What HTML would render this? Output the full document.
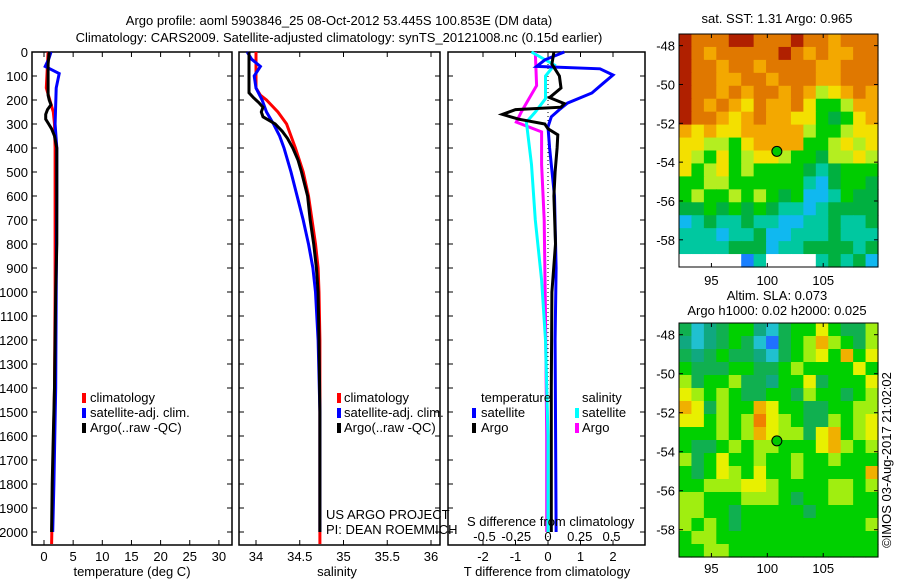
<!DOCTYPE html>
<html><head><meta charset="utf-8">
<style>
html,body{margin:0;padding:0;background:#fff;}
svg{display:block;font-family:"Liberation Sans",sans-serif;font-size:13px;}
</style></head>
<body>
<svg id="fig" width="900" height="580" viewBox="0 0 900 580">
<text x="339" y="25" text-anchor="middle">Argo profile: aoml 5903846_25 08-Oct-2012 53.445S 100.853E (DM data)</text>
<text x="339" y="42" text-anchor="middle">Climatology: CARS2009. Satellite-adjusted climatology: synTS_20121008.nc (0.15d earlier)</text>
<g id="g1"></g>
<g id="g2"></g>
<g id="g3"></g>
<g id="m1"></g>
<g id="m2"></g>
<text x="90" y="402">climatology</text>
<text x="90" y="417">satellite-adj. clim.</text>
<text x="90" y="432">Argo(..raw -QC)</text>
<rect x="82" y="393" width="4" height="10" fill="#f00"/><rect x="82" y="408" width="4" height="10" fill="#00f"/><rect x="82" y="423" width="4" height="10" fill="#000"/>
<text x="344" y="402">climatology</text>
<text x="344" y="417">satellite-adj. clim.</text>
<text x="344" y="432">Argo(..raw -QC)</text>
<rect x="337" y="393" width="4" height="10" fill="#f00"/><rect x="337" y="408" width="4" height="10" fill="#00f"/><rect x="337" y="423" width="4" height="10" fill="#000"/>
<text x="481" y="402">temperature</text>
<text x="481" y="417">satellite</text>
<text x="481" y="432">Argo</text>
<rect x="472" y="408" width="4" height="10" fill="#00f"/><rect x="472" y="423" width="4" height="10" fill="#000"/>
<text x="582" y="402">salinity</text>
<text x="582" y="417">satellite</text>
<text x="582" y="432">Argo</text>
<rect x="575" y="408" width="4" height="10" fill="#0ff"/><rect x="575" y="423" width="4" height="10" fill="#f0f"/>
<text x="326" y="519">US ARGO PROJECT</text>
<text x="326" y="534">PI: DEAN ROEMMICH</text>
<text x="467" y="526">S difference from climatology</text>
<text x="132" y="576" text-anchor="middle">temperature (deg C)</text>
<text x="337" y="576" text-anchor="middle">salinity</text>
<text x="547" y="576" text-anchor="middle">T difference from climatology</text>
<text x="777" y="23" text-anchor="middle">sat. SST: 1.31 Argo: 0.965</text>
<text x="777" y="300" text-anchor="middle">Altim. SLA: 0.073</text>
<text x="777" y="315" text-anchor="middle">Argo h1000: 0.02 h2000: 0.025</text>
<text transform="translate(891,460) rotate(-90)" text-anchor="middle">©IMOS 03-Aug-2017 21:02:02</text>
</svg>
<script>
const depthTicks=[0,100,200,300,400,500,600,700,800,900,1000,1100,1200,1300,1400,1500,1600,1700,1800,1900,2000];
const tTicks=[0,5,10,15,20,25,30];
const sTicks=[34,34.5,35,35.5,36];
const tdTicks=[-2,-1,0,1,2];
const sdTicks=[-0.5,-0.25,0,0.25,0.5];
const sdTickLabels=["-0.5","-0.25","0","0.25","0.5"];
// temperature profiles
const tArgoD=[0,50,100,180,200,220,240,260,280,300,320,350,400,500,600,800,1000,1200,1400,1600,1800,2000];
const tArgoV=[0.9,0.7,0.7,0.7,0.9,1.2,0.6,0.3,0.3,0.8,1.3,1.8,2.2,2.2,2.2,2.2,2.0,1.9,1.8,1.6,1.4,1.3];
const tClimD=[0,50,100,150,200,250,300,400,600,1000,1400,1800,2050];
const tClimV=[0.7,0.6,0.5,0.4,1.0,1.6,1.8,1.9,1.9,1.9,1.8,1.5,1.3];
const tSatD=[0,30,60,90,150,300,400,600,1000,1400,1800,2000];
const tSatV=[1.2,0.8,0.2,2.6,2.1,1.9,2.2,2.2,2.1,2.0,1.7,1.5];
// salinity profiles
const sArgoD=[0,170,190,210,230,250,270,300,330,360,400,450,500,600,700,800,900,1000,1200,1500,2000];
const sArgoV=[33.92,33.92,33.97,34.03,34.08,34.06,34.08,34.22,34.3,34.36,34.42,34.48,34.52,34.59,34.62,34.66,34.69,34.71,34.72,34.73,34.73];
const sClimD=[0,50,100,150,180,200,250,300,350,400,500,600,700,800,900,1000,1200,2050];
const sClimV=[34.0,34.0,34.0,34.0,34.05,34.12,34.25,34.35,34.4,34.45,34.54,34.6,34.64,34.68,34.71,34.72,34.73,34.73];
const sSatD=[0,30,60,100,150,200,250,300,350,400,500,600,700,800,900,1000,1200,1500,2000];
const sSatV=[33.9,33.95,34.05,33.98,34.0,34.07,34.12,34.2,34.27,34.32,34.4,34.47,34.54,34.6,34.65,34.68,34.71,34.73,34.73];
// difference profiles
const dTSatD=[0,33,60,70,96,130,171,213,240,270,312,400,600,900,1200,2000];
const dTSatV=[0.5,-0.1,-0.35,1.6,2.0,1.7,1.35,0.6,0.35,0.1,0.0,0.05,0.2,0.25,0.22,0.25];
const dTArgoD=[0,50,100,150,190,215,230,240,260,280,300,320,345,400,500,600,800,1000,1400,2000];
const dTArgoV=[0.18,0.12,0.35,0.4,0.05,0.5,0.4,-1.0,-1.4,-0.9,-0.1,0.0,0.3,0.28,0.22,0.18,0.23,0.12,0.1,0.1];
const dSArgoD=[0,140,194,250,292,333,469,700,1100,1600,2000];
const dSArgoV=[-0.1,-0.09,-0.15,-0.21,-0.25,-0.05,-0.05,-0.03,-0.02,-0.01,-0.01];
const dSSatD=[0,54,100,194,250,292,469,700,950,1200,1600,2000];
const dSSatV=[-0.13,0.05,-0.02,-0.02,-0.1,-0.17,-0.13,-0.1,-0.05,-0.02,0.0,0.0];
// maps
const lonMin=92.1, lonMax=109.9, latTop=-47.4, latBot=-59.4;
const lonTicks=[95,100,105];
const latTicks=[-48,-50,-52,-54,-56,-58];
const argoLon=100.853, argoLat=-53.445;
const sstGrid=["9888998889887888","9878888898787788","9887887888877888","9887788788877888","9887878878756787","9878768778644577","9887678776643467","7676677777544566","6655467777445656","6546456654435565","6456454444323444","4455444444213443","4544545434112433","3343434322123333","1232232211223223","2221223112223222","2222333122333323","-----02----23231"];
const slaGrid=["3123442134464335","2123431034575435","3234332134564746","4333443345444464","5344533244634446","6545433443544345","7635447644334455","6645458654335456","4445457655367456","4334545544467545","5346445445445444","4346546445444447","4455566544445545","5544455543445544","5544344444344444","5454344444444445","4554444444444444","4455444444444444"];
const sstColors={"9":"#b02000","8":"#e07800","7":"#f3a800","6":"#f3e000","5":"#b4ee20","4":"#00cc00","3":"#00b040","2":"#00c8a0","1":"#10b8f0","0":"#1a80ff","-":"#ffffff"};
const slaColors={"0":"#2070ff","1":"#20c0d0","2":"#10a880","3":"#10b050","4":"#00d000","5":"#a0ee10","6":"#e8f000","7":"#f0b000","8":"#f08000"};

const NS="http://www.w3.org/2000/svg";
function mk(parent,tag,attrs){const e=document.createElementNS(NS,tag);for(const k in attrs)e.setAttribute(k,attrs[k]);parent.appendChild(e);return e;}
const yTop=52, pxPerM=0.24, yBot=545;
function yD(d){return yTop+d*pxPerM;}
function panel(g,x0,x1,ticks,labels,xf,showDepth){
  mk(g,'rect',{x:x0,y:yTop,width:x1-x0,height:yBot-yTop,fill:'none',stroke:'#000','stroke-width':1.5});
  depthTicks.forEach(d=>{const y=yD(d);
    mk(g,'line',{x1:x0,y1:y,x2:x0+5,y2:y,stroke:'#000'});
    mk(g,'line',{x1:x1-5,y1:y,x2:x1,y2:y,stroke:'#000'});
    if(showDepth){const t=mk(g,'text',{x:x0-4,y:y+5,'text-anchor':'end'});t.textContent=d;
      
      }
  });
  ticks.forEach((v,i)=>{const x=xf(v);
    mk(g,'line',{x1:x,y1:yBot,x2:x,y2:yBot-5,stroke:'#000'});
    mk(g,'line',{x1:x,y1:yTop,x2:x,y2:yTop+5,stroke:'#000'});
    const t=mk(g,'text',{x:x,y:yBot+16,'text-anchor':'middle'});t.textContent=labels[i];
    
    
  });
}
function line(g,D,V,xf,col,name,w){
  const pts=D.map((d,i)=>xf(V[i]).toFixed(1)+','+yD(d).toFixed(1)).join(' ');
  const p=mk(g,'polyline',{points:pts,fill:'none',stroke:col,'stroke-width':w||3,'stroke-linejoin':'miter'});
  
  
}
const g1=document.getElementById('g1');
const xT=v=>44+v*5.83;
panel(g1,32,232,tTicks,tTicks.map(String),xT,true);
line(g1,tClimD,tClimV,xT,'#f00','temp-climatology-line');
line(g1,tSatD,tSatV,xT,'#00f','temp-satellite-line');
line(g1,tArgoD,tArgoV,xT,'#000','temp-argo-line');
const g2=document.getElementById('g2');
const xS=v=>256+(v-34)*87.5;
panel(g2,239,440,sTicks,["34","34.5","35","35.5","36"],xS,false);
line(g2,sClimD,sClimV,xS,'#f00','sal-climatology-line');
line(g2,sSatD,sSatV,xS,'#00f','sal-satellite-line');
line(g2,sArgoD,sArgoV,xS,'#000','sal-argo-line');
const g3=document.getElementById('g3');
const xTD=v=>548+v*32.5, xSD=v=>548+v*127;
panel(g3,448,645,tdTicks,tdTicks.map(String),xTD,false);
sdTicks.forEach((v,i)=>{const t=mk(g3,'text',{x:xSD(v),y:541,'text-anchor':'middle'});t.textContent=sdTickLabels[i];
  
  });
mk(g3,'line',{x1:548,y1:yTop,x2:548,y2:yBot,stroke:'#000','stroke-dasharray':'1,3'});
line(g3,dSArgoD,dSArgoV,xSD,'#f0f','s-diff-argo-line');
line(g3,dSSatD,dSSatV,xSD,'#0ff','s-diff-satellite-line');
line(g3,dTSatD,dTSatV,xTD,'#00f','t-diff-satellite-line');
line(g3,dTArgoD,dTArgoV,xTD,'#000','t-diff-argo-line');
function map(g,grid,colors,x0,x1,y0,y1,lonLabelY){
  const lx=v=>x0+(v-lonMin)/(lonMax-lonMin)*(x1-x0);
  const ly=v=>y0+(latTop-v)/(latTop-latBot)*(y1-y0);
  const rows=grid.length, cols=grid[0].length;
  const cw=(x1-x0)/cols, ch=(y1-y0)/rows;
  grid.forEach((row,r)=>{for(let c=0;c<cols;c++){
    const cell=mk(g,'rect',{x:(x0+c*cw).toFixed(2),y:(y0+r*ch).toFixed(2),width:(cw+0.6).toFixed(2),height:(ch+0.6).toFixed(2),fill:colors[row[c]]});
    
    
  }});
  mk(g,'rect',{x:x0,y:y0,width:x1-x0,height:y1-y0,fill:'none',stroke:'#000','stroke-width':1});
  latTicks.forEach(v=>{const y=ly(v);
    mk(g,'line',{x1:x0,y1:y,x2:x0+4,y2:y,stroke:'#000'});mk(g,'line',{x1:x1-4,y1:y,x2:x1,y2:y,stroke:'#000'});
    const t=mk(g,'text',{x:x0-4,y:y+5,'text-anchor':'end'});t.textContent=v;
    
    });
  lonTicks.forEach(v=>{const x=lx(v);
    mk(g,'line',{x1:x,y1:y0,x2:x,y2:y0+4,stroke:'#000'});mk(g,'line',{x1:x,y1:y1-4,x2:x,y2:y1,stroke:'#000'});
    const t=mk(g,'text',{x:x,y:lonLabelY,'text-anchor':'middle'});t.textContent=v;
    
    });
  const c=mk(g,'circle',{cx:lx(argoLon),cy:ly(argoLat),r:5,fill:'#00c800',stroke:'#000','stroke-width':1});
  
  
}
map(document.getElementById('m1'),sstGrid,sstColors,679,878,34,267,285);
map(document.getElementById('m2'),slaGrid,slaColors,679,878,323,557,573);
</script>
</body></html>
